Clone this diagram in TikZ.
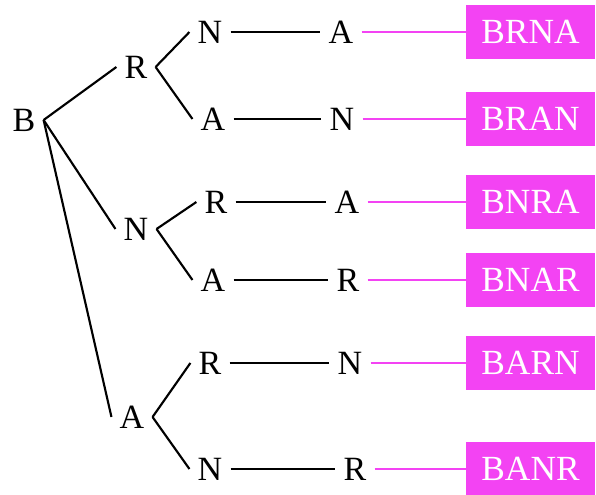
\documentclass[tikz,border=0pt]{standalone}
\usepackage{fontspec}
\setmainfont{Liberation Serif}
\definecolor{boxpink}{RGB}{243,67,243}

\begin{document}
\begin{tikzpicture}[x=0.75pt, y=-0.75pt,
  ltr/.style={inner sep=6pt, font=\fontsize{25.5}{28}\selectfont},
  outbox/.style={fill=boxpink, text=white, minimum width=96.75pt, minimum height=40.5pt, inner sep=0pt, font=\fontsize{26.5}{30}\selectfont},
  br/.style={line width=1.6pt},
  lk/.style={draw=boxpink, line width=1.2pt}]
\useasboundingbox (0,0) rectangle (596,495);
\node[ltr] (B) at (24,120) {B};
\node[ltr] (R) at (136,67) {R};
\node[ltr] (N) at (136,229) {N};
\node[ltr] (A) at (132,417) {A};
\node[ltr] (RN) at (210,32) {N};
\node[ltr] (RA) at (213,119) {A};
\node[ltr] (NR) at (216,202) {R};
\node[ltr] (NA) at (213,280) {A};
\node[ltr] (AR) at (210,363) {R};
\node[ltr] (AN) at (210,469) {N};
\node[ltr] (RNA) at (341,32) {A};
\node[ltr] (RAN) at (342,119) {N};
\node[ltr] (NRA) at (347,202) {A};
\node[ltr] (NAR) at (348,280) {R};
\node[ltr] (ARN) at (350,363) {N};
\node[ltr] (ANR) at (355,469) {R};
\node[outbox] (bRNA) at (530.5,32) {BRNA};
\node[outbox] (bRAN) at (530.5,119) {BRAN};
\node[outbox] (bNRA) at (530.5,202) {BNRA};
\node[outbox] (bNAR) at (530.5,280) {BNAR};
\node[outbox] (bARN) at (530.5,363) {BARN};
\node[outbox] (bANR) at (530.5,469) {BANR};
\draw[br] (B.east) -- (R.west); \draw[br] (B.east) -- (N.west); \draw[br] (B.east) -- (A.west);
\draw[br] (R.east) -- (RN.west); \draw[br] (R.east) -- (RA.west);
\draw[br] (N.east) -- (NR.west); \draw[br] (N.east) -- (NA.west);
\draw[br] (A.east) -- (AR.west); \draw[br] (A.east) -- (AN.west);
\draw[br] (RN) -- (RNA); \draw[br] (RA) -- (RAN); \draw[br] (NR) -- (NRA);
\draw[br] (NA) -- (NAR); \draw[br] (AR) -- (ARN); \draw[br] (AN) -- (ANR);
\draw[lk] (RNA) -- (bRNA); \draw[lk] (RAN) -- (bRAN); \draw[lk] (NRA) -- (bNRA);
\draw[lk] (NAR) -- (bNAR); \draw[lk] (ARN) -- (bARN); \draw[lk] (ANR) -- (bANR);
\end{tikzpicture}
\end{document}
